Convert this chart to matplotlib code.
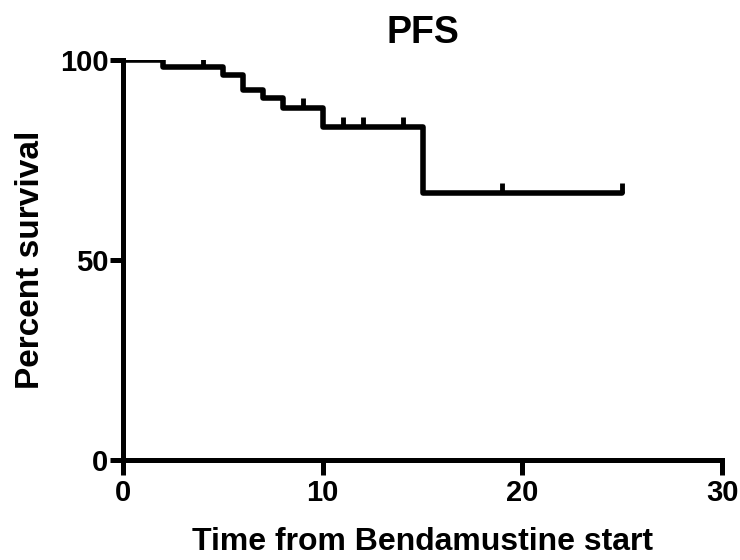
import matplotlib
matplotlib.use('Agg')
import matplotlib.pyplot as plt

# Kaplan-Meier steps (time in months, percent surviving)
step_times = [0, 2, 5, 6, 7, 8, 10, 15, 25]
step_surv = [100, 98.2, 96.3, 92.6, 90.5, 88.0, 83.3, 66.7, 66.7]

# censored observations
censor_times = [4, 9, 11, 12, 14, 19, 25]
censor_surv = [98.2, 88.0, 83.3, 83.3, 83.3, 66.7, 66.7]

xticks = [0, 10, 20, 30]
yticks = [0, 50, 100]

plt.rcParams['font.family'] = ['Liberation Sans', 'DejaVu Sans']
plt.rcParams['font.weight'] = 'bold'

fig = plt.figure(figsize=(7.4, 5.6), dpi=100)
ax = fig.add_axes([0.166, 0.179, 0.81, 0.714])

ax.step(step_times, step_surv, where='post', color='black', lw=4,
        solid_joinstyle='round', solid_capstyle='round')
ax.plot(censor_times, censor_surv, linestyle='none', marker=2,
        markersize=7, mew=3.5, color='black')

ax.set_xlim(0, 30)
ax.set_ylim(0, 100)
ax.set_xticks(xticks)
ax.set_yticks(yticks)
for s in ['top', 'right']:
    ax.spines[s].set_visible(False)
for s in ['left', 'bottom']:
    ax.spines[s].set_linewidth(3.6)
ax.tick_params(axis='x', length=11, width=3.6, labelsize=21, pad=3)
ax.tick_params(axis='y', length=9.5, width=3.6, labelsize=21, pad=1)
for lab in ax.get_xticklabels() + ax.get_yticklabels():
    lab.set_fontweight('bold')

ax.set_title('PFS', fontsize=27, fontweight='bold', pad=12)
ax.set_xlabel('Time from Bendamustine start', fontsize=23, fontweight='bold', labelpad=14)
ax.set_ylabel('Percent survival', fontsize=24, fontweight='bold', labelpad=10)

fig.savefig('out.png', dpi=100)
